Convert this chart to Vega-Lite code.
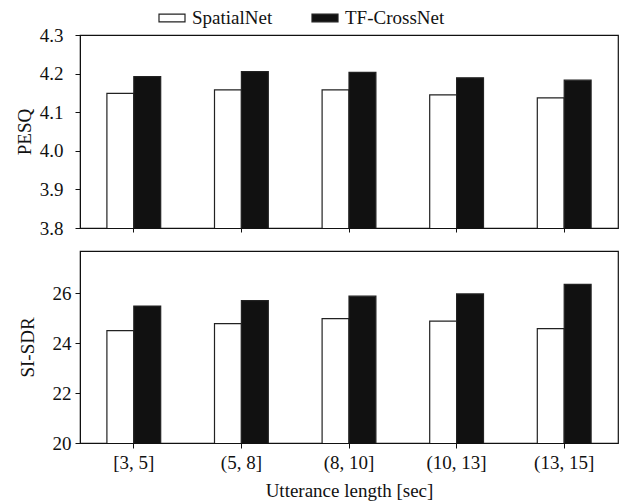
{
  "$schema": "https://vega.github.io/schema/vega-lite/v6.json",
  "padding": {"left": 14, "top": 4, "right": 2, "bottom": 2},
  "data": {
    "values": [
      {"length": "[3, 5]", "model": "SpatialNet", "PESQ": 4.149, "SISDR": 24.51},
      {"length": "[3, 5]", "model": "TF-CrossNet", "PESQ": 4.192, "SISDR": 25.49},
      {"length": "(5, 8]", "model": "SpatialNet", "PESQ": 4.158, "SISDR": 24.79},
      {"length": "(5, 8]", "model": "TF-CrossNet", "PESQ": 4.205, "SISDR": 25.71},
      {"length": "(8, 10]", "model": "SpatialNet", "PESQ": 4.158, "SISDR": 24.99},
      {"length": "(8, 10]", "model": "TF-CrossNet", "PESQ": 4.203, "SISDR": 25.89},
      {"length": "(10, 13]", "model": "SpatialNet", "PESQ": 4.145, "SISDR": 24.89},
      {"length": "(10, 13]", "model": "TF-CrossNet", "PESQ": 4.189, "SISDR": 25.98},
      {"length": "(13, 15]", "model": "SpatialNet", "PESQ": 4.137, "SISDR": 24.59},
      {"length": "(13, 15]", "model": "TF-CrossNet", "PESQ": 4.183, "SISDR": 26.36}
    ]
  },
  "config": {
    "font": "Liberation Serif",
    "view": {"stroke": "#111", "strokeWidth": 1.2},
    "axis": {
      "labelFont": "Liberation Serif", "titleFont": "Liberation Serif",
      "labelFontSize": 19, "titleFontSize": 19, "titleFontWeight": "normal",
      "labelColor": "#111", "titleColor": "#111",
      "domainColor": "#111", "tickColor": "#111", "tickSize": 5,
      "grid": false
    },
    "legend": {
      "labelFont": "Liberation Serif", "labelFontSize": 19, "labelColor": "#111"
    },
    "concat": {"spacing": 11}
  },
  "vconcat": [
    {
      "width": 538,
      "height": 193,
      "mark": {"type": "bar", "stroke": "#222", "strokeWidth": 1.2, "clip": true},
      "encoding": {
        "x": {"field": "length", "type": "nominal", "sort": null,
              "scale": {"paddingInner": 0.5, "paddingOuter": 0.25},
              "axis": {"labels": false, "title": null, "tickSize": 4, "domain": false}},
        "xOffset": {"field": "model", "type": "nominal", "sort": ["SpatialNet", "TF-CrossNet"],
                    "scale": {"paddingInner": 0, "paddingOuter": 0}},
        "y": {"field": "PESQ", "type": "quantitative",
              "scale": {"domain": [3.8, 4.3], "zero": false, "nice": false},
              "axis": {"values": [3.8, 3.9, 4.0, 4.1, 4.2, 4.3], "format": ".1f", "title": "PESQ",
                       "labelPadding": 12, "titlePadding": 5}},
        "fill": {"field": "model", "type": "nominal", "sort": ["SpatialNet", "TF-CrossNet"],
                 "scale": {"domain": ["SpatialNet", "TF-CrossNet"], "range": ["#ffffff", "#111111"]},
                 "legend": {"title": null, "orient": "none", "direction": "horizontal",
                            "legendX": 78, "legendY": -31,
                            "symbolType": "M-1,-0.3H1V0.3H-1Z", "symbolSize": 676,
                            "symbolStrokeColor": "#222", "symbolStrokeWidth": 1.2,
                            "columnPadding": 36, "labelOffset": 6}}
      }
    },
    {
      "width": 538,
      "height": 192,
      "mark": {"type": "bar", "stroke": "#222", "strokeWidth": 1.2, "clip": true},
      "encoding": {
        "x": {"field": "length", "type": "nominal", "sort": null,
              "scale": {"paddingInner": 0.5, "paddingOuter": 0.25},
              "axis": {"labelAngle": 0, "title": "Utterance length [sec]", "tickSize": 5,
                       "labelPadding": 5, "titlePadding": 9, "domain": false}},
        "xOffset": {"field": "model", "type": "nominal", "sort": ["SpatialNet", "TF-CrossNet"],
                    "scale": {"paddingInner": 0, "paddingOuter": 0}},
        "y": {"field": "SISDR", "type": "quantitative",
              "scale": {"domain": [20, 27.7], "zero": false, "nice": false},
              "axis": {"values": [20, 22, 24, 26], "title": "SI-SDR",
                       "labelPadding": 4, "titlePadding": 15}},
        "fill": {"field": "model", "type": "nominal", "sort": ["SpatialNet", "TF-CrossNet"],
                 "scale": {"domain": ["SpatialNet", "TF-CrossNet"], "range": ["#ffffff", "#111111"]}}
      }
    }
  ]
}
